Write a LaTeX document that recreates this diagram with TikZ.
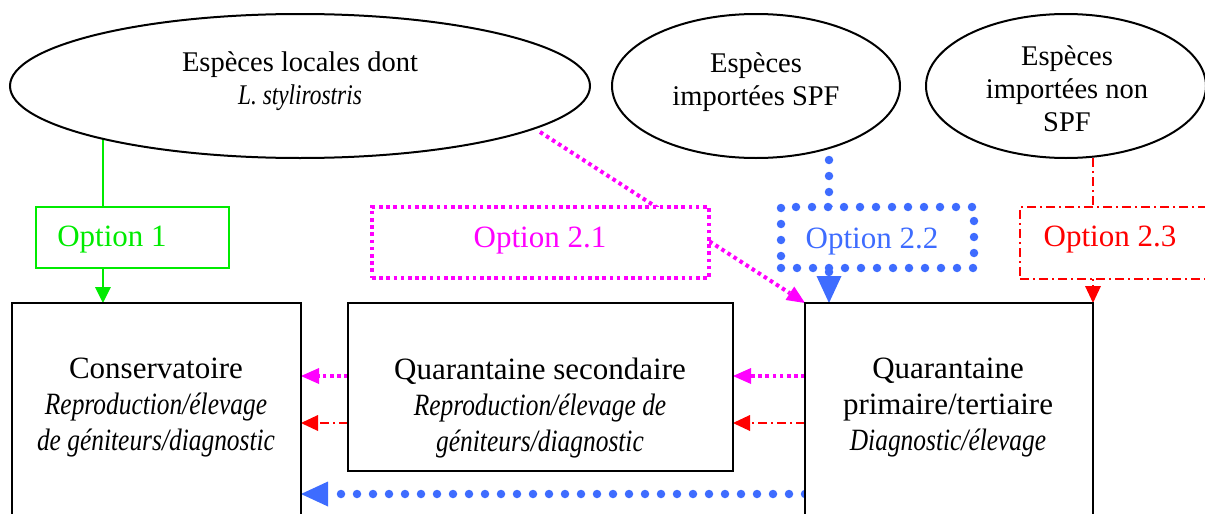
\documentclass[tikz,border=0pt]{standalone}
\usepackage{fontspec}
\setmainfont{Liberation Serif}
\newfontfamily\narrowserif{Liberation Serif}[FakeStretch=0.82]
\usetikzlibrary{arrows.meta,shapes.geometric,backgrounds}
\definecolor{optgreen}{RGB}{0,235,0}
\definecolor{optmagenta}{RGB}{255,0,255}
\definecolor{optblue}{RGB}{62,108,255}
\definecolor{optred}{RGB}{255,0,0}
\newcommand{\itsub}[1]{{\narrowserif\itshape #1}}
\begin{document}
\begin{tikzpicture}[x=1pt,y=-1pt,
  every node/.style={inner sep=0pt, outer sep=0pt},
  bigtext/.style={font=\fontsize{31}{36}\selectfont, align=center},
  elltext/.style={font=\fontsize{28.5}{33}\selectfont, align=center},
  source/.style={ellipse, draw, line width=2pt, fill=white, minimum height=144pt},
  unit/.style={rectangle, draw, line width=2pt, fill=white, anchor=north west},
  optbox/.style={rectangle, fill=white, anchor=north west},
  gline/.style={draw=optgreen, line width=2pt},
  mline/.style={draw=optmagenta, line width=4pt, dash pattern=on 3.6pt off 3.6pt},
  bline/.style={draw=optblue, line width=8.5pt, line cap=round, dash pattern=on 0pt off 16pt},
  rline/.style={draw=optred, line width=2pt, dash pattern=on 9pt off 4pt on 2pt off 4pt},
  gtip/.style={-{Triangle[length=16pt,width=16pt,line width=0pt,fill=optgreen]}},
  mtip/.style={-{Triangle[length=18pt,width=16pt,line width=0pt,fill=optmagenta]}},
  rtip/.style={-{Triangle[length=17pt,width=16pt,line width=0pt,fill=optred]}},
  btip/.style={-{Triangle[length=27pt,width=25pt,line width=0pt,fill=optblue]}}]
\useasboundingbox (0,0) rectangle (1205,514);
\clip (0,0) rectangle (1205,514);

% sources
\node[source, minimum width=580pt] (e1) at (300,86) {};
\node[source, minimum width=288pt] (e2) at (756,86) {};
\node[source, minimum width=280pt] (e3) at (1066,86) {};
\node[elltext] (t1) at (300,81) {Espèces locales dont\\\itsub{L. stylirostris}};
\node[elltext] (t2) at (756,82) {Espèces\\importées SPF};
\node[elltext] (t3) at (1067,89) {Espèces\\importées non\\SPF};

% facilities
\node[unit, minimum width=289pt, minimum height=260pt] (cons) at (12,303) {};
\node[unit, minimum width=385pt, minimum height=168pt] (sec) at (348,303) {};
\node[unit, minimum width=288pt, minimum height=260pt] (prim) at (805,303) {};
\node[bigtext] (tc) at (156,408) {Conservatoire\\\itsub{Reproduction/élevage}\\\itsub{de géniteurs/diagnostic}};
\node[bigtext] (ts) at (540,408) {Quarantaine secondaire\\\itsub{Reproduction/élevage de}\\\itsub{géniteurs/diagnostic}};
\node[bigtext] (tp) at (948,408) {Quarantaine\\primaire/tertiaire\\\itsub{Diagnostic/élevage}};

% options
\node[optbox, gline, minimum width=193pt, minimum height=61pt] (o1) at (36,207) {};
\node[optbox, mline, minimum width=337pt, minimum height=71pt] (o21) at (372,207) {};
\node[optbox, bline, minimum width=193pt, minimum height=61pt] (o22) at (781,207) {};
\node[optbox, rline, minimum width=200pt, minimum height=72pt] (o23) at (1020,207) {};
\node[bigtext, text=optgreen] (l1) at (112,240) {Option 1};
\node[bigtext, text=optmagenta] (l21) at (540,241) {Option 2.1};
\node[bigtext, text=optblue] (l22) at (872,242) {Option 2.2};
\node[bigtext, text=optred] (l23) at (1110,240) {Option 2.3};

% level marks for the horizontal links
\coordinate (ym) at (0,376);
\coordinate (yr) at (0,423);
\coordinate (yb) at (0,494);
\coordinate (m0) at (540,132);
\coordinate (b0) at (829,160);

\begin{pgfonlayer}{background}
  % option 1
  \draw[gline] (e1.195.7) -- (e1.195.7 |- o1.north);
  \draw[gline, gtip] (e1.195.7 |- o1.south) -- (e1.195.7 |- cons.north);
  % option 2.1
  \draw[mline, mtip] (m0) -- (prim.north west);
  \draw[mline, mtip] (prim.west |- ym) -- (sec.east |- ym);
  \draw[mline, mtip] (sec.west |- ym) -- (cons.east |- ym);
  % option 2.2
  \draw[bline, btip] (b0) -- (b0 |- prim.north);
  \draw[bline, btip] (prim.west |- yb) -- (cons.east |- yb);
  % option 2.3
  \draw[rline, rtip] (prim.north east |- e3.south) -- (prim.north east);
  \draw[rline, rtip] (prim.west |- yr) -- (sec.east |- yr);
  \draw[rline, rtip] (sec.west |- yr) -- (cons.east |- yr);
\end{pgfonlayer}
\end{tikzpicture}
\end{document}
